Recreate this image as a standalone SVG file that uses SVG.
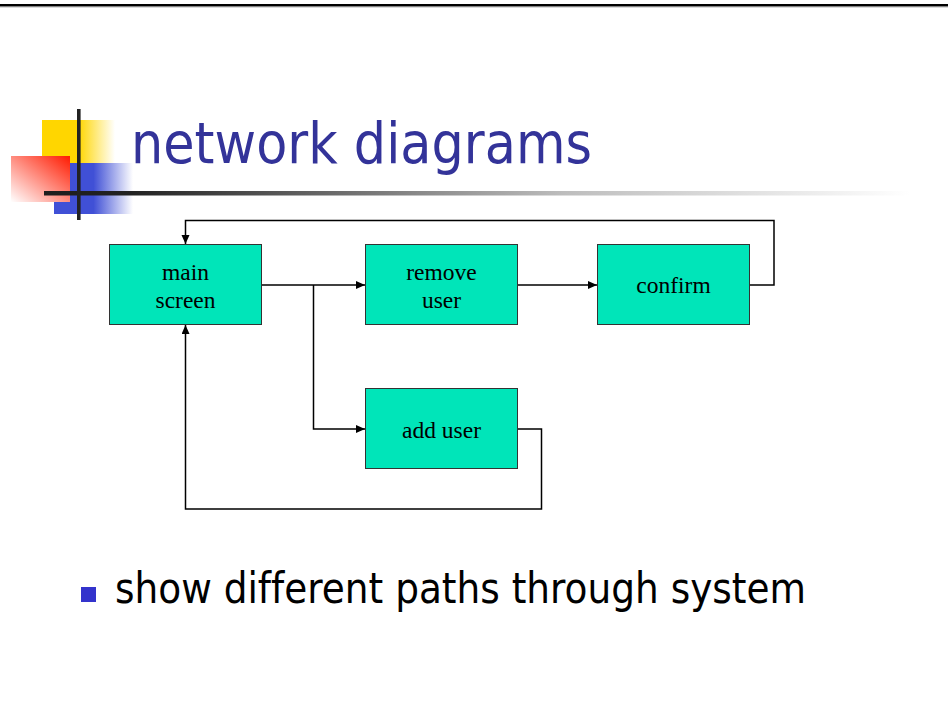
<svg xmlns="http://www.w3.org/2000/svg" width="948" height="721" viewBox="0 0 948 721">
  <style>
    .box { fill: #00E5B9; stroke: #333333; stroke-width: 1; }
    .lbl { font-family: "Liberation Serif", "Times New Roman", serif; font-size: 23.5px; fill: #000000; text-anchor: middle; }
    .wire { fill: none; stroke: #000000; stroke-width: 1.5; }
    .title { font-family: "DejaVu Sans", Tahoma, sans-serif; font-size: 57px; fill: #333399; font-variant-ligatures: none; }
    .body { font-family: "DejaVu Sans", Tahoma, sans-serif; font-size: 42px; fill: #000000; font-variant-ligatures: none; }
  </style>
  <defs>
    <marker id="arrow" markerUnits="userSpaceOnUse" markerWidth="10" markerHeight="9" refX="9" refY="4" orient="auto">
      <path d="M0,0 L9,4 L0,8 z" fill="#000000"/>
    </marker>
    <linearGradient id="gYellow" x1="0" y1="0" x2="1" y2="0">
      <stop offset="0" stop-color="#FFD600"/>
      <stop offset="0.5" stop-color="#FFD600"/>
      <stop offset="1" stop-color="#FFFFFF"/>
    </linearGradient>
    <linearGradient id="gBlue" x1="0" y1="0" x2="1" y2="0">
      <stop offset="0" stop-color="#4050D6"/>
      <stop offset="0.5" stop-color="#4050D6"/>
      <stop offset="1" stop-color="#FFFFFF"/>
    </linearGradient>
    <linearGradient id="gRed" x1="1" y1="0" x2="0" y2="1">
      <stop offset="0" stop-color="#FF1A00"/>
      <stop offset="1" stop-color="#FFFFFF"/>
    </linearGradient>
    <linearGradient id="gRule" gradientUnits="userSpaceOnUse" x1="44" y1="0" x2="910" y2="0">
      <stop offset="0" stop-color="#1E1E1E"/>
      <stop offset="0.1" stop-color="#222222"/>
      <stop offset="0.6" stop-color="#BDBDBD"/>
      <stop offset="1" stop-color="#FFFFFF"/>
    </linearGradient>
  </defs>

  <!-- top border -->
  <rect x="0" y="4" width="948" height="2.5" fill="#000000"/>
  <rect x="0" y="6.5" width="948" height="0.8" fill="#888888"/>

  <!-- header ornament -->
  <g id="ornament">
    <rect x="42" y="120" width="73" height="43" fill="url(#gYellow)"/>
    <rect x="54" y="163" width="79" height="51" fill="url(#gBlue)"/>
    <rect x="11" y="156" width="59" height="46" fill="url(#gRed)"/>
    <rect x="44" y="191" width="866" height="4.5" fill="url(#gRule)"/>
    <rect x="77" y="109" width="3.6" height="111" fill="#222222"/>
  </g>

  <text class="title" x="131" y="163" textLength="461" lengthAdjust="spacingAndGlyphs">network diagrams</text>

  <!-- connectors -->
  <g id="connectors">
    <path class="wire" d="M262,285 H365" marker-end="url(#arrow)"/>
    <path class="wire" d="M313.5,285 V429 H365" marker-end="url(#arrow)"/>
    <path class="wire" d="M518,285 H597" marker-end="url(#arrow)"/>
    <path class="wire" d="M750,285 H774 V220.5 H185.5 V244" marker-end="url(#arrow)"/>
    <path class="wire" d="M518,429 H541.5 V509 H185.5 V325" marker-end="url(#arrow)"/>
  </g>

  <!-- nodes -->
  <g id="main-screen">
    <rect class="box" x="109.5" y="244.5" width="152" height="80"/>
    <text class="lbl" x="185.5" y="280">main</text>
    <text class="lbl" x="185.5" y="307.5">screen</text>
  </g>
  <g id="remove-user">
    <rect class="box" x="365.5" y="244.5" width="152" height="80"/>
    <text class="lbl" x="441.5" y="280">remove</text>
    <text class="lbl" x="441.5" y="307.5">user</text>
  </g>
  <g id="confirm">
    <rect class="box" x="597.5" y="244.5" width="152" height="80"/>
    <text class="lbl" x="673.5" y="293">confirm</text>
  </g>
  <g id="add-user">
    <rect class="box" x="365.5" y="388.5" width="152" height="80"/>
    <text class="lbl" x="441.5" y="438">add user</text>
  </g>

  <!-- bullet -->
  <rect x="81" y="587" width="15" height="15" fill="#3333CC"/>
  <text class="body" x="115" y="603" textLength="691" lengthAdjust="spacingAndGlyphs">show different paths through system</text>
</svg>
